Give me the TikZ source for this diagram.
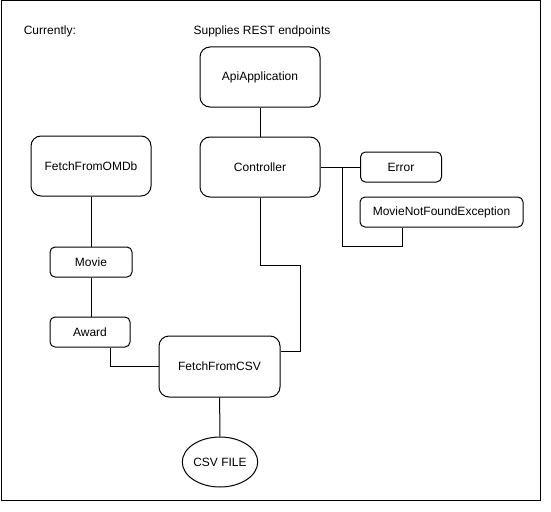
\documentclass[tikz,border=0pt]{standalone}
\usepackage{fontspec}
\setmainfont{Liberation Sans}
\usetikzlibrary{shapes.geometric}
\begin{document}
\begin{tikzpicture}[x=1pt,y=-1pt,line width=1pt,
  font=\fontsize{12}{14}\selectfont,
  bigbox/.style={draw,rounded corners=10pt,minimum width=120pt,minimum height=60pt,inner sep=0pt},
  smallbox/.style={draw,rounded corners=5pt,minimum height=30pt,inner sep=0pt},
  conn/.style={draw,line width=1pt}]
\useasboundingbox (0,0) rectangle (551,511);
\draw (1,1) rectangle (540,500);
\node[anchor=west] (cur) at (20,31) {Currently:};
\node (rest) at (262,31) {Supplies REST endpoints};
\node[bigbox] (api) at (260,77) {ApiApplication};
\node[bigbox] (ctrl) at (260,167) {Controller};
\node[smallbox,minimum width=81pt] (err) at (401,167) {Error};
\node[smallbox,minimum width=163pt] (mnfe) at (441.5,212) {MovieNotFoundException};
\node[bigbox] (omdb) at (91,166) {FetchFromOMDb};
\node[smallbox,minimum width=82pt] (movie) at (91,262) {Movie};
\node[smallbox,minimum width=80pt] (award) at (90,332) {Award};
\node[bigbox,minimum width=121pt,minimum height=61pt] (csv) at (219.5,366.5) {FetchFromCSV};
\node[draw,ellipse,minimum width=75pt,minimum height=50pt,inner sep=0pt] (file) at (220,462) {CSV FILE};
\coordinate (j1) at (342,167);
\draw (api) -- (ctrl);
\draw (ctrl) -- (err);
\draw (j1) -- (342,246) -| (mnfe.south -| 402,0);
\draw (ctrl) -- (260,265) -| (300,351) -- (csv.east |- 0,351);
\draw (omdb) -- (movie);
\draw (movie) -- (movie |- award.north);
\draw (award.south -| 110,0) |- (csv.west |- 0,366);
\draw (csv) -- (file);
\end{tikzpicture}
\end{document}
